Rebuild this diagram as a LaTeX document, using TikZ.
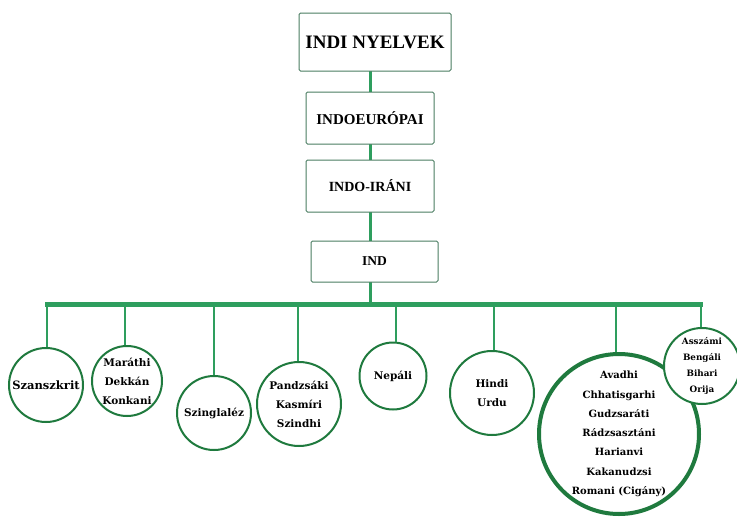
\documentclass[tikz,border=0pt]{standalone}
\usepackage{fontspec}
\setmainfont{Liberation Serif}
\newfontfamily\circfont{DejaVu Serif}
\begin{document}
\begin{tikzpicture}[x=1pt,y=-1pt,
  boxstyle/.style={draw=boxgreen, line width=1pt, rounded corners=1.5pt, fill=white},
  circstyle/.style={draw=circgreen, line width=2pt, circle, fill=white, inner sep=0pt, align=center,
     font=\circfont\bfseries\fontsize{10.5}{19}\selectfont},
  conn/.style={draw=linkgreen, line width=3pt},
  thinconn/.style={draw=linkgreen, line width=2.2pt},
  ]
\definecolor{boxgreen}{HTML}{4A7D62}
\definecolor{circgreen}{HTML}{1F7A3E}
\definecolor{linkgreen}{HTML}{2E9E5E}
\useasboundingbox (0,0) rectangle (737,517);
\fill[white] (0,0) rectangle (737,517);

% connectors first
\coordinate (barL) at (45,304);
\coordinate (barR) at (703,304);
\coordinate (barM) at (370,304);

\draw[conn] (370,71) -- (370,92);
\draw[conn] (370,144) -- (370,160);
\draw[conn] (370,212) -- (370,241);
\draw[conn] (370,282) -- (barM);
\draw[draw=linkgreen, line width=5pt] (barL) -- (barR);

\coordinate (d1) at (47,302);
\coordinate (d2) at (125,302);
\coordinate (d3) at (214,302);
\coordinate (d4) at (298,302);
\coordinate (d5) at (396,302);
\coordinate (d6) at (494,302);
\coordinate (d7) at (616,302);
\coordinate (d8) at (701,302);

% circles
\node[circstyle, minimum size=74pt, font=\circfont\bfseries\fontsize{11.5}{19}\selectfont] (sz) at (46,385) {Szanszkrit};
\node[circstyle, minimum size=70pt] (ma) at (127,381) {Maráthi\\Dekkán\\Konkani};
\node[circstyle, minimum size=74pt] (szi) at (214,413) {Szinglaléz};
\node[circstyle, minimum size=84pt] (pa) at (299,404) {Pandzsáki\\Kasmíri\\Szindhi};
\node[circstyle, minimum size=67pt] (ne) at (393,376) {Nepáli};
\node[circstyle, minimum size=84pt] (hu) at (492,393) {Hindi\\Urdu};
\node[circstyle, minimum size=160pt, line width=4pt, font=\circfont\bfseries\fontsize{10}{19.3}\selectfont] (big) at (619,434) {Avadhi\\Chhatisgarhi\\Gudzsaráti\\Rádzsasztáni\\Harianvi\\Kakanudzsi\\Romani (Cigány)};
\node[circstyle, minimum size=76pt, font=\circfont\bfseries\fontsize{8.8}{16}\selectfont] (as) at (702,366) {Asszámi\\Bengáli\\Bihari\\Orija};

\draw[thinconn] (d1) -- (d1 |- sz.north);
\draw[thinconn] (d2) -- (d2 |- ma.north);
\draw[thinconn] (d3) -- (d3 |- szi.north);
\draw[thinconn] (d4) -- (d4 |- pa.north);
\draw[thinconn] (d5) -- (d5 |- ne.north);
\draw[thinconn] (d6) -- (d6 |- hu.north);
\draw[thinconn] (d7) -- (d7 |- big.north);
\draw[thinconn] (d8) -- (d8 |- as.north);

% boxes
\node[boxstyle, minimum width=152pt, minimum height=58pt, font=\bfseries\fontsize{19}{20}\selectfont] (top) at (375,42) {INDI NYELVEK};
\node[boxstyle, minimum width=128pt, minimum height=52pt, font=\bfseries\fontsize{15}{16}\selectfont] (ie) at (370,118) {INDOEURÓPAI};
\node[boxstyle, minimum width=128pt, minimum height=52pt, font=\bfseries\fontsize{14}{16}\selectfont] (ii) at (370,186) {INDO-IRÁNI};
\node[boxstyle, minimum width=127pt, minimum height=41pt, font=\bfseries\fontsize{13.5}{16}\selectfont] (ind) at (374.5,261.5) {IND};
\end{tikzpicture}
\end{document}
